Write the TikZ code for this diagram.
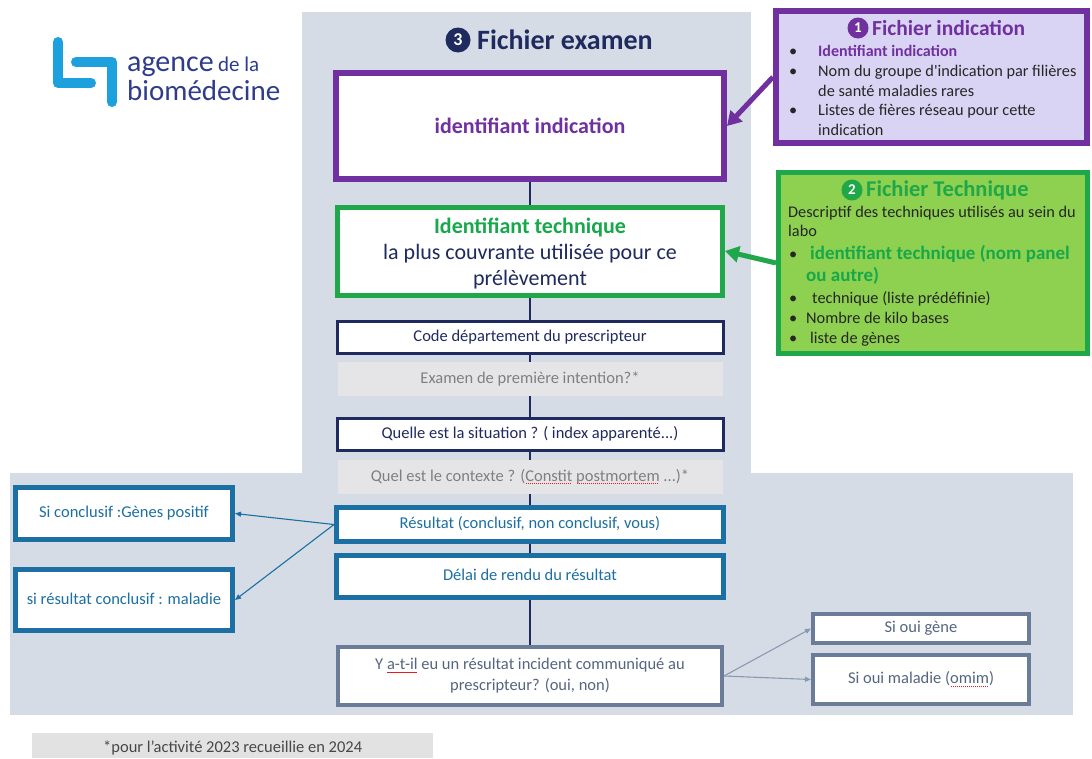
\documentclass[tikz,border=0pt]{standalone}
\usepackage{fontspec}
\setmainfont{Carlito}
\usetikzlibrary{arrows.meta}
\definecolor{panel}{HTML}{D6DCE5}
\definecolor{purp}{HTML}{7030A0}
\definecolor{lav}{HTML}{D9D4F3}
\definecolor{grn}{HTML}{1FA74A}
\definecolor{grntxt}{HTML}{17A84B}
\definecolor{grnfill}{HTML}{8ED04F}
\definecolor{navy}{HTML}{1F2A5E}
\definecolor{teal}{HTML}{1C6FA2}
\definecolor{slate}{HTML}{6B7C98}
\definecolor{slatetxt}{HTML}{55657F}
\definecolor{slatearrow}{HTML}{8A99B3}
\definecolor{grayfill}{HTML}{E5E5E7}
\definecolor{graytxt}{HTML}{7F7F7F}
\definecolor{logoblue}{HTML}{1DA1DE}
\definecolor{logonavy}{HTML}{2F3C8C}
\definecolor{footfill}{HTML}{E2E2E2}
\definecolor{darktxt}{HTML}{262626}
\definecolor{spellred}{HTML}{E02020}
\newcommand\fsz[2]{\fontsize{#1}{#2}\selectfont}
\newsavebox\spbox
\newcommand\spellmark[1]{\sbox\spbox{#1}\rlap{\color{spellred}\raisebox{-3pt}{\hbox to \wd\spbox{\leaders\hbox to 2pt{\hss\rule{1.3pt}{0.8pt}\hss}\hfill}}}\usebox\spbox}
\tikzset{
  mainbox/.style={rectangle, fill=white, inner sep=2pt, align=center},
  purplebox/.style={mainbox, draw=purp, line width=6pt, text=purp, font=\bfseries\fsz{22}{26}},
  greenbox/.style={mainbox, draw=grn, line width=5pt, text=navy, font=\fsz{22}{26}},
  navybox/.style={mainbox, draw=navy, line width=3pt, text=navy, font=\fsz{16.5}{20}, text height=12pt, text depth=4pt},
  graybox/.style={rectangle, fill=grayfill, inner sep=2pt, text=graytxt, font=\fsz{16.5}{20}, text height=12pt, text depth=4pt},
  tealbox/.style={mainbox, draw=teal, line width=5pt, text=teal, font=\fsz{16.5}{20}, text height=12pt, text depth=4pt},
  slatebox/.style={mainbox, draw=slate, line width=4pt, text=slatetxt, font=\fsz{16.5}{21}},
  vline/.style={draw=navy, line width=2pt},
  bigarrow/.style={line width=5pt, -{Triangle[length=14pt,width=16pt]}},
  smallarrow/.style={line width=1.1pt, -{Triangle[length=6pt,width=5pt]}},
  numcirc/.style={circle, inner sep=0pt, text=white, font=\bfseries\fsz{15}{15}},
  txtline/.style={inner sep=0pt, anchor=base west},
}
\begin{document}
\begin{tikzpicture}[x=1pt,y=-1pt]
\useasboundingbox (0,0) rectangle (1092,758);
\fill[white] (0,0) rectangle (1092,758);
% background panels
\fill[panel] (302,12) rectangle (751,715);
\fill[panel] (10,473) rectangle (1073,715);

% logo
\draw[logoblue, line width=10pt, line cap=round, line join=round] (58,42) -- (58,83) -- (91,83);
\draw[logoblue, line width=10pt, line cap=round, line join=round] (76,62) -- (112,62) -- (112,102);
\node[txtline, text=logonavy, font=\fsz{30}{30}] (lg1) at (127,71) {agence};
\node[txtline, text=logonavy, font=\fsz{21}{21}] (lg2) at ([xshift=4pt]lg1.base east) {de la};
\node[txtline, text=logonavy, font=\fsz{29}{29}] (lg3) at (127,100) {biomédecine};

% title of examen panel
\node[numcirc, fill=navy, minimum size=25pt, font=\bfseries\fsz{18}{18}] (n3) at (458,40) {3};
\node[anchor=west, inner sep=0pt, text=navy, font=\bfseries\fsz{28}{28}] (t3) at (477,40) {Fichier examen};

% central column
\node[purplebox, minimum width=388pt, minimum height=106pt] (ind) at (530,126) {identifiant indication};
\node[greenbox, minimum width=385pt, minimum height=88pt] (tech) at (530,251)
  {\rule{0pt}{21pt}{\bfseries\color{grntxt}Identifiant technique}\\la plus couvrante utilisée pour ce\\prélèvement};
\node[navybox, minimum width=386pt, minimum height=32pt] (code) at (530,337.5) {Code département du prescripteur};
\node[graybox, minimum width=385pt, minimum height=34pt] (exa) at (530,379) {Examen de première intention?*};
\node[navybox, minimum width=386pt, minimum height=32pt] (sit) at (530,434.5) {Quelle est la situation ? ( index apparenté...)};
\node[graybox, minimum width=385pt, minimum height=34pt] (ctx) at (530,477) {Quel est le contexte ? (\spellmark{Constit} \spellmark{postmortem} ...)*};
\node[tealbox, minimum width=387pt, minimum height=34pt] (res) at (530,524.5) {Résultat (conclusif, non conclusif, vous)};
\node[tealbox, minimum width=387pt, minimum height=42pt] (del) at (530,576.5) {Délai de rendu du résultat};
\node[slatebox, minimum width=384pt, minimum height=58pt] (inc) at (530,676)
  {Y \spellmark{a-t-il} eu un résultat incident communiqué au\\prescripteur? (oui, non)};

\draw[vline] (ind.south) -- (tech.north);
\draw[vline] (tech.south) -- (code.north);
\draw[vline] (code.south) -- (exa.north);
\draw[vline] (exa.south) -- (sit.north);
\draw[vline] (sit.south) -- (ctx.north);
\draw[vline] (ctx.south) -- (res.north);
\draw[vline] (res.south) -- (del.north);
\draw[vline] (del.south) -- (inc.north);

% left boxes
\node[tealbox, minimum width=217pt, minimum height=52pt] (lf1) at (124,513.5) {Si conclusif :Gènes positif};
\node[tealbox, minimum width=217pt, minimum height=61pt] (lf2) at (124,600) {si résultat conclusif : maladie};
\draw[smallarrow, draw=teal] (res.west) -- (lf1.east);
\draw[smallarrow, draw=teal] (res.west) -- (lf2.east);

% right boxes
\node[slatebox, minimum width=216pt, minimum height=29pt, text height=12pt, text depth=4pt] (rt1) at (921,628.5) {Si oui gène};
\node[slatebox, minimum width=216pt, minimum height=49pt, text height=12pt, text depth=4pt] (rt2) at (921,679.5) {Si oui maladie (\spellmark{omim})};
\draw[smallarrow, draw=slatearrow] (inc.east) -- (rt1.west);
\draw[smallarrow, draw=slatearrow] (inc.east) -- (rt2.west);

% Fichier indication
\node[rectangle, draw=purp, fill=lav, line width=6pt, minimum width=311pt, minimum height=132pt] (fi) at (931.5,77) {};
\node[numcirc, fill=purp, minimum size=21pt] (n1) at (858,28) {1};
\node[anchor=west, inner sep=0pt, text=purp, font=\bfseries\fsz{21.5}{22}] (t1) at (872,28) {Fichier indication};
\begin{scope}[every node/.style={txtline, text=darktxt, font=\fsz{16.3}{18}}]
\node (fb1) at (789,56) {•};
\node[text=purp, font=\bfseries\fsz{16}{18}] (fl1) at (818,56) {Identifiant indication};
\node (fb2) at (789,76) {•};
\node (fl2) at (818,76) {Nom du groupe d\textquotesingle indication par filières};
\node (fl3) at (818,96) {de santé maladies rares};
\node (fb3) at (789,115) {•};
\node (fl4) at (818,115) {Listes de fières réseau pour cette};
\node (fl5) at (818,135) {indication};
\end{scope}
\draw[bigarrow, draw=purp] (fi.west) -- (ind.east);

% Fichier Technique
\node[rectangle, draw=grn, fill=grnfill, line width=5pt, minimum width=309pt, minimum height=181pt] (ft) at (933,263) {};
\node[numcirc, fill=grn, minimum size=21pt] (n2) at (852,190) {2};
\node[anchor=west, inner sep=0pt, text=grn, font=\bfseries\fsz{22.5}{23}] (t2) at (866,190) {Fichier Technique};
\begin{scope}[every node/.style={txtline, text=darktxt, font=\fsz{16.3}{18}}]
\node (tl1) at (788,217) {Descriptif des techniques utilisés au sein du};
\node (tl2) at (788,236) {labo};
\node (tb1) at (789,259) {•};
\node[text=grntxt, font=\bfseries\fsz{19}{20}] (tl3) at (810,259) {identifiant technique (nom panel};
\node[text=grntxt, font=\bfseries\fsz{19}{20}] (tl4) at (806,281) {ou autre)};
\node (tb2) at (789,303) {•};
\node (tl5) at (812,303) {technique (liste prédéfinie)};
\node (tb3) at (789,323) {•};
\node (tl6) at (806,323) {Nombre de kilo bases};
\node (tb4) at (789,343) {•};
\node (tl7) at (810,343) {liste de gènes};
\end{scope}
\draw[bigarrow, draw=grn] (ft.west) -- (tech.east);

% footer
\node[rectangle, fill=footfill, minimum width=401pt, minimum height=25pt, inner sep=0pt] (foot) at (232.5,745.5) {};
\node[txtline, text=darktxt!85, font=\fsz{16.5}{18}] (foott) at (103,752) {*pour l’activité 2023 recueillie en 2024};
\end{tikzpicture}
\end{document}
